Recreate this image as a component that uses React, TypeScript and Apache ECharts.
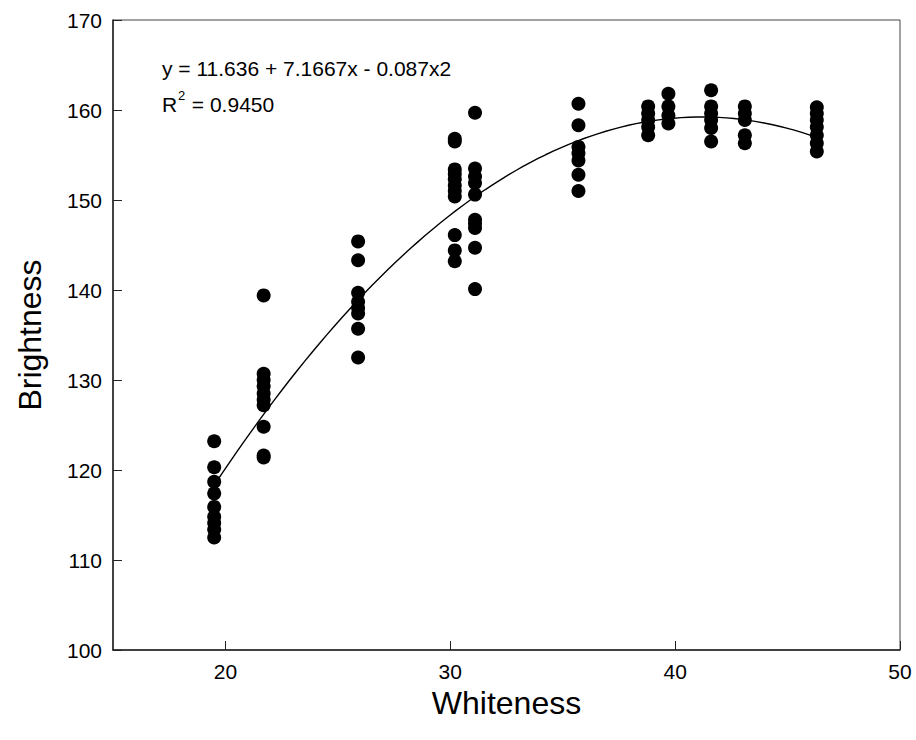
import React, { useEffect, useRef } from "react";
import * as echarts from "echarts";

// Column x positions (Whiteness) and measured Brightness values
const colX = [19.5, 21.7, 25.9, 30.2, 31.1, 35.7, 38.8, 39.7, 41.6, 43.1, 46.3];
const col1 = [123.2, 120.3, 118.7, 117.4, 115.9, 114.8, 114.1, 113.4, 112.5];
const col2 = [139.4, 130.7, 130.0, 129.3, 128.5, 127.8, 127.2, 124.8, 121.6, 121.4];
const col3 = [145.4, 143.3, 139.7, 138.7, 138.0, 137.4, 135.7, 132.5];
const col4 = [156.8, 156.5, 153.4, 152.9, 152.3, 151.6, 151.0, 150.4, 146.1, 144.4, 143.2];
const col5 = [159.7, 153.5, 152.6, 151.9, 150.6, 147.8, 147.4, 146.9, 144.7, 140.1];
const col6 = [160.7, 158.3, 155.9, 155.2, 154.4, 152.8, 151.0];
const col7 = [160.4, 159.6, 158.9, 158.1, 157.2];
const col8 = [161.8, 160.4, 159.4, 158.5];
const col9 = [162.2, 160.4, 159.6, 158.9, 158.0, 156.5];
const col10 = [160.4, 159.6, 158.9, 157.2, 156.3];
const col11 = [160.3, 159.6, 158.9, 158.1, 157.2, 156.3, 155.4];
const columns = [col1, col2, col3, col4, col5, col6, col7, col8, col9, col10, col11];

// Regression coefficients shown on the chart
const coefA = 11.636;
const coefB = 7.1667;
const coefC = -0.087;

const yTicks = [100, 110, 120, 130, 140, 150, 160, 170];
const xTicks = [20, 30, 40, 50];

const FONT = "'Liberation Sans', Arial, sans-serif";

export default function App() {
  const ref = useRef<HTMLDivElement>(null);
  useEffect(() => {
    if (!ref.current) return;
    const chart = echarts.init(ref.current, undefined, { renderer: "svg" });
    const pts: number[][] = [];
    columns.forEach((col, i) => col.forEach((v) => pts.push([colX[i], v])));
    const xMin = colX[0];
    const xMax = colX[colX.length - 1];
    const curve: number[][] = [];
    const n = 80;
    for (let i = 0; i <= n; i++) {
      const x = xMin + ((xMax - xMin) * i) / n;
      curve.push([x, coefA + coefB * x + coefC * x * x]);
    }
    chart.setOption({
      animation: false,
      textStyle: { fontFamily: FONT },
      grid: {
        left: 113,
        right: 16,
        top: 20,
        bottom: 90,
        show: true,
        borderColor: "#444",
        borderWidth: 1,
        backgroundColor: "transparent",
      },
      xAxis: {
        type: "value",
        min: 15,
        max: 50,
        name: "Whiteness",
        nameLocation: "middle",
        nameGap: 34,
        nameTextStyle: { fontSize: 32, color: "#000", fontFamily: FONT },
        axisLine: { show: true, lineStyle: { color: "#222", width: 1.5 } },
        axisTick: { show: true, inside: true, length: 9, lineStyle: { color: "#222" }, customValues: xTicks },
        axisLabel: { fontSize: 21, color: "#000", margin: 11, customValues: xTicks, fontFamily: FONT },
        splitLine: { show: false },
      },
      yAxis: {
        type: "value",
        min: 100,
        max: 170,
        interval: 10,
        name: "Brightness",
        nameLocation: "middle",
        nameGap: 67,
        nameTextStyle: { fontSize: 32, color: "#000", fontFamily: FONT },
        axisLine: { show: true, lineStyle: { color: "#222", width: 1.5 } },
        axisTick: { show: true, inside: true, length: 9, lineStyle: { color: "#222" }, customValues: yTicks },
        axisLabel: { fontSize: 21, color: "#000", margin: 11, customValues: yTicks, fontFamily: FONT },
        splitLine: { show: false },
      },
      graphic: [
        {
          type: "text",
          left: 162,
          top: 58,
          style: { text: "y = 11.636 + 7.1667x - 0.087x2", fontSize: 21, fill: "#000", fontFamily: FONT },
        },
        {
          type: "text",
          left: 162,
          top: 94,
          style: { text: "R", fontSize: 21, fill: "#000", fontFamily: FONT },
        },
        {
          type: "text",
          left: 178,
          top: 89,
          style: { text: "2", fontSize: 13, fill: "#000", fontFamily: FONT },
        },
        {
          type: "text",
          left: 186,
          top: 94,
          style: { text: " = 0.9450", fontSize: 21, fill: "#000", fontFamily: FONT },
        },
      ],
      series: [
        {
          type: "line",
          data: curve,
          showSymbol: false,
          symbol: "none",
          lineStyle: { color: "#000", width: 1.4 },
          z: 3,
        },
        {
          type: "scatter",
          data: pts,
          symbol: "circle",
          symbolSize: 14,
          itemStyle: { color: "#000", opacity: 1 },
          z: 2,
        },
      ],
    });
    return () => chart.dispose();
  }, []);
  return <div ref={ref} style={{ position: "absolute", left: 0, top: 0, width: 916, height: 740 }} />;
}
